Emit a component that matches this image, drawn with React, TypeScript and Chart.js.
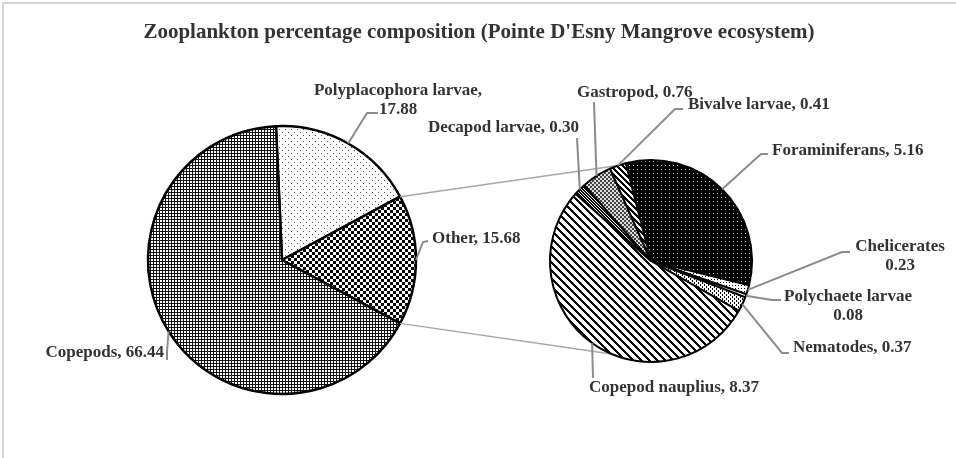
import React, { useEffect, useRef } from 'react';
import { Chart, registerables } from 'chart.js';
Chart.register(...registerables);

const titleText = "Zooplankton percentage composition (Pointe D'Esny Mangrove ecosystem)";
const mainCategories = ['Polyplacophora larvae', 'Other', 'Copepods'];
const mainValues = [17.88, 15.68, 66.44];
const subCategories = ['Foraminiferans', 'Chelicerates', 'Polychaete larvae', 'Nematodes', 'Copepod nauplius', 'Decapod larvae', 'Gastropod', 'Bivalve larvae'];
const subValues = [5.16, 0.23, 0.08, 0.37, 8.37, 0.3, 0.76, 0.41];

type Mode = 'one' | 'two' | 'twoNoComma';
type LabelLayout = { mode: Mode; x: number; y: number; align: CanvasTextAlign; path: [number, number][] };

const mainLayouts: LabelLayout[] = [
  { mode: 'two', x: 398, y: 91, align: 'center', path: [[378, 113], [367, 113]] },
  { mode: 'one', x: 432, y: 239, align: 'left', path: [[428, 241], [423, 242]] },
  { mode: 'one', x: 164, y: 353, align: 'right', path: [[167, 360], [167, 352]] },
];
const subLayouts: LabelLayout[] = [
  { mode: 'one', x: 772, y: 151, align: 'left', path: [[768, 154], [761, 154]] },
  { mode: 'twoNoComma', x: 900, y: 247, align: 'center', path: [[850, 252], [842, 252]] },
  { mode: 'twoNoComma', x: 848, y: 297, align: 'center', path: [[781, 300], [772, 300]] },
  { mode: 'one', x: 793, y: 348, align: 'left', path: [[789, 353], [782, 353]] },
  { mode: 'one', x: 589, y: 388, align: 'left', path: [[593, 378]] },
  { mode: 'one', x: 428, y: 128, align: 'left', path: [[577, 138]] },
  { mode: 'one', x: 577, y: 93, align: 'left', path: [[594, 102]] },
  { mode: 'one', x: 688, y: 105, align: 'left', path: [[683, 109], [675, 109]] },
];

const LABEL_FONT = 'bold 17px "Liberation Serif", "Times New Roman", serif';
const TITLE_FONT = 'bold 21px "Liberation Serif", "Times New Roman", serif';
const TEXT_COLOR = '#333333';
const LEADER_COLOR = '#8c8c8c';

function makePattern(kind: string): CanvasPattern {
  const c = document.createElement('canvas');
  const g = c.getContext('2d')!;
  const size = (w: number, h: number) => { c.width = w; c.height = h; };
  const px = (x: number, y: number, col: string, w = 1, h = 1) => { g.fillStyle = col; g.fillRect(x, y, w, h); };
  const diag = (period: number, black: number, bg = '#ffffff', fg = '#000000') => {
    size(period, period);
    px(0, 0, bg, period, period);
    for (let y = 0; y < period; y++) for (let x = 0; x < period; x++) {
      if ((((x - y) % period) + period) % period < black) px(x, y, fg);
    }
  };
  switch (kind) {
    case 'grid':
      size(3, 3); px(0, 0, '#ffffff', 3, 3); px(0, 0, '#111111', 3, 1); px(0, 0, '#111111', 1, 3); break;
    case 'dots':
      size(6, 6); px(0, 0, '#ffffff', 6, 6); px(0, 0, '#555555'); px(3, 3, '#555555'); break;
    case 'checker':
      size(6, 6); px(0, 0, '#ffffff', 6, 6); px(0, 0, '#000000', 3, 3); px(3, 3, '#000000', 3, 3); break;
    case 'darkdots':
      size(4, 4); px(0, 0, '#000000', 4, 4); px(1, 1, '#cccccc'); break;
    case 'wideDiag':
      diag(8, 3); break;
    case 'bivalve':
      diag(6, 3); break;
    case 'gastropod':
      size(4, 4); px(0, 0, '#dddddd', 4, 4); px(0, 0, '#444444', 2, 2); px(2, 2, '#444444', 2, 2); break;
    case 'decapod':
      diag(3, 2); break;
    case 'chel':
      size(3, 3); px(0, 0, '#ffffff', 3, 3); px(0, 0, '#000000'); break;
    case 'poly':
      size(4, 4); px(0, 0, '#ffffff', 4, 4); px(0, 0, '#888888'); break;
    case 'nema':
      size(4, 4); px(0, 0, '#ffffff', 4, 4); px(0, 0, '#000000', 1, 2); px(2, 2, '#000000', 1, 2); break;
    default:
      size(1, 1); px(0, 0, '#ffffff');
  }
  return g.createPattern(c, 'repeat')!;
}

function labelLines(name: string, value: number, mode: Mode): string[] {
  const v = value.toFixed(2);
  if (mode === 'one') return [`${name}, ${v}`];
  if (mode === 'two') return [`${name},`, v];
  return [name, v];
}

function drawLabels(chart: any, names: string[], values: number[], layouts: LabelLayout[]) {
  const ctx: CanvasRenderingContext2D = chart.ctx;
  const meta = chart.getDatasetMeta(0);
  ctx.save();
  meta.data.forEach((arc: any, i: number) => {
    const p = arc.getProps(['x', 'y', 'startAngle', 'endAngle', 'outerRadius'], true);
    const mid = (p.startAngle + p.endAngle) / 2;
    const ex = p.x + Math.cos(mid) * p.outerRadius;
    const ey = p.y + Math.sin(mid) * p.outerRadius;
    const L = layouts[i];
    ctx.strokeStyle = LEADER_COLOR;
    ctx.lineWidth = 2;
    ctx.lineJoin = 'miter';
    ctx.beginPath();
    ctx.moveTo(L.path[0][0], L.path[0][1]);
    for (let k = 1; k < L.path.length; k++) ctx.lineTo(L.path[k][0], L.path[k][1]);
    ctx.lineTo(ex, ey);
    ctx.stroke();
    ctx.fillStyle = TEXT_COLOR;
    ctx.font = LABEL_FONT;
    ctx.textAlign = L.align;
    ctx.textBaseline = 'middle';
    labelLines(names[i], values[i], L.mode).forEach((t, k) => ctx.fillText(t, L.x, L.y + k * 19));
  });
  ctx.restore();
}

export default function App() {
  const ref1 = useRef<HTMLCanvasElement>(null);
  const ref2 = useRef<HTMLCanvasElement>(null);
  useEffect(() => {
    const mainPatterns = ['dots', 'checker', 'grid'].map(makePattern);
    const subPatterns = ['darkdots', 'chel', 'poly', 'nema', 'wideDiag', 'decapod', 'gastropod', 'bivalve'].map(makePattern);

    const c1 = new Chart(ref1.current!, {
      type: 'pie',
      data: {
        labels: mainCategories,
        datasets: [{ data: mainValues, backgroundColor: mainPatterns as any, borderColor: '#000000', borderWidth: 2.5 }],
      },
      options: {
        responsive: false,
        animation: false,
        events: [],
        rotation: -2.59,
        radius: 134,
        layout: { padding: { left: 0, right: 392, top: 62, bottom: 0 } },
        plugins: { legend: { display: false }, tooltip: { enabled: false }, title: { display: false } },
      },
      plugins: [{
        id: 'bgTitle',
        beforeDraw(chart: any) {
          const ctx = chart.ctx;
          ctx.save();
          ctx.fillStyle = '#ffffff';
          ctx.fillRect(0, 0, chart.width, chart.height);
          ctx.strokeStyle = '#d6d6d6';
          ctx.lineWidth = 2;
          ctx.beginPath();
          ctx.moveTo(3, 458); ctx.lineTo(3, 3); ctx.lineTo(956, 3);
          ctx.stroke();
          ctx.fillStyle = TEXT_COLOR;
          ctx.font = TITLE_FONT;
          ctx.textAlign = 'center';
          ctx.textBaseline = 'middle';
          ctx.fillText(titleText, 479, 33);
          ctx.restore();
        },
        afterDatasetsDraw(chart: any) { drawLabels(chart, mainCategories, mainValues, mainLayouts); },
      }],
    });

    const c2 = new Chart(ref2.current!, {
      type: 'pie',
      data: {
        labels: subCategories,
        datasets: [{ data: subValues, backgroundColor: subPatterns as any, borderColor: '#000000', borderWidth: 2 }],
      },
      options: {
        responsive: false,
        animation: false,
        events: [],
        rotation: -14.5,
        radius: 101,
        layout: { padding: { left: 346, right: 0, top: 64, bottom: 0 } },
        plugins: { legend: { display: false }, tooltip: { enabled: false }, title: { display: false } },
      },
      plugins: [{
        id: 'connectors',
        beforeDatasetsDraw(chart: any) {
          const other = c1.getDatasetMeta(0).data[1] as any;
          const o = other.getProps(['x', 'y', 'startAngle', 'endAngle', 'outerRadius'], true);
          const sub = chart.getDatasetMeta(0).data[0] as any;
          const s = sub.getProps(['x', 'y', 'outerRadius'], true);
          const topA = (251 * Math.PI) / 180;
          const botA = (113 * Math.PI) / 180;
          const ctx = chart.ctx;
          ctx.save();
          ctx.strokeStyle = '#a6a6a6';
          ctx.lineWidth = 1.5;
          ctx.beginPath();
          ctx.moveTo(o.x + Math.cos(o.startAngle) * o.outerRadius, o.y + Math.sin(o.startAngle) * o.outerRadius);
          ctx.lineTo(s.x + Math.cos(topA) * s.outerRadius, s.y + Math.sin(topA) * s.outerRadius);
          ctx.moveTo(o.x + Math.cos(o.endAngle) * o.outerRadius, o.y + Math.sin(o.endAngle) * o.outerRadius);
          ctx.lineTo(s.x + Math.cos(botA) * s.outerRadius, s.y + Math.sin(botA) * s.outerRadius);
          ctx.stroke();
          ctx.restore();
        },
        afterDatasetsDraw(chart: any) { drawLabels(chart, subCategories, subValues, subLayouts); },
      }],
    });

    return () => { c2.destroy(); c1.destroy(); };
  }, []);

  return (
    <div style={{ position: 'absolute', left: 0, top: 0, width: 956, height: 458 }}>
      <canvas ref={ref1} width={956} height={458} style={{ position: 'absolute', left: 0, top: 0, width: 956, height: 458 }} />
      <canvas ref={ref2} width={956} height={458} style={{ position: 'absolute', left: 0, top: 0, width: 956, height: 458 }} />
    </div>
  );
}
